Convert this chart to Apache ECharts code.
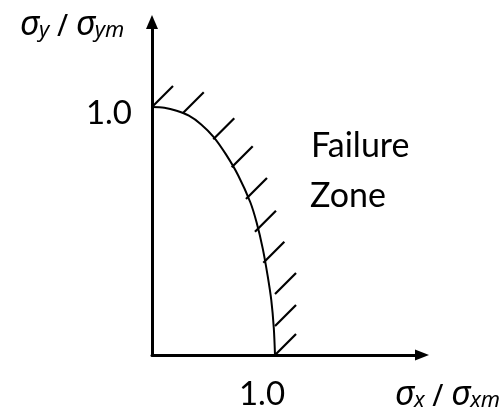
<!DOCTYPE html>
<html>
<head>
<meta charset="utf-8">
<script src="https://cdn.jsdelivr.net/npm/echarts@6/dist/echarts.min.js"></script>
<style>
  html, body { margin: 0; padding: 0; background: #fff; }
  #chart { width: 502px; height: 413px; }
</style>
</head>
<body>
<div id="chart"></div>
<script>
// Normalised failure envelope (σx/σxm, σy/σym)
const curveX = [0, 0.1, 0.2, 0.3, 0.4, 0.5, 0.6, 0.7, 0.8, 0.85, 0.9, 0.94, 0.97, 0.99, 1.0];
const curveY = [1.0, 0.997, 0.985, 0.965, 0.93, 0.88, 0.81, 0.725, 0.615, 0.535, 0.43, 0.32, 0.22, 0.11, 0.0];

// Where the hatch strokes leave the envelope
const hatchX = [0, 0.25, 0.498, 0.648, 0.764, 0.837, 0.905, 1.0, 1.0, 1.0];
const hatchY = [1.0, 0.975, 0.87, 0.757, 0.629, 0.497, 0.372, 0.246, 0.117, 0.0];

// Tick labels shown on each axis
const xTicks = [1];
const yTicks = [1];

const xTitle = { main: 'σ', sub1: 'x', sub2: 'xm' };
const yTitle = { main: 'σ', sub1: 'y', sub2: 'ym' };
const zoneText = ['Failure', 'Zone'];

const FONT = 'Lato';
const HATCH_DX = 21, HATCH_DY = -21;

function titleRich(t) {
  return '{s|' + t.main + '}{b|' + t.sub1 + '}{sl| / }{s|' + t.main + '}{b|' + t.sub2 + '}';
}
const richStyles = {
  s: { fontFamily: 'Noto Sans', fontStyle: 'italic', fontSize: 34, fill: '#000', verticalAlign: 'bottom' },
  b: { fontFamily: 'Noto Sans', fontStyle: 'italic', fontSize: 22, fill: '#000', verticalAlign: 'bottom' },
  sl: { fontFamily: 'Noto Sans', fontSize: 30, fill: '#000', verticalAlign: 'bottom' }
};

const chart = echarts.init(document.getElementById('chart'), null, { renderer: 'canvas' });

const option = {
  backgroundColor: '#fff',
  animation: false,
  grid: { left: 152, right: 80, top: 22, bottom: 58 },
  xAxis: {
    type: 'value', min: 0, max: 2.195, interval: 1,
    axisLine: { lineStyle: { color: '#000', width: 3 }, symbol: ['none', 'triangle'], symbolSize: [11, 14] },
    axisTick: { show: false },
    splitLine: { show: false },
    axisLabel: {
      margin: 23, color: '#000', fontFamily: FONT, fontSize: 33,
      padding: [0, 26, 0, 0],
      formatter: v => xTicks.includes(v) ? v.toFixed(1) : ''
    }
  },
  yAxis: {
    type: 'value', min: 0, max: 1.343, interval: 1,
    axisLine: { lineStyle: { color: '#000', width: 3 }, symbol: ['none', 'triangle'], symbolSize: [12, 14] },
    axisTick: { show: false },
    splitLine: { show: false },
    axisLabel: {
      margin: 20, color: '#000', fontFamily: FONT, fontSize: 33,
      verticalAlign: 'top',
      padding: [-10, 0, 0, 0],
      formatter: v => yTicks.includes(v) ? v.toFixed(1) : ''
    }
  },
  series: [
    {
      type: 'line',
      data: curveX.map((x, i) => [x, curveY[i]]),
      smooth: 0.3,
      symbol: 'none',
      lineStyle: { color: '#000', width: 2 },
      z: 3
    },
    {
      type: 'custom',
      data: hatchX.map((x, i) => [x, hatchY[i]]),
      renderItem: function (params, api) {
        const p = api.coord([api.value(0), api.value(1)]);
        return {
          type: 'line',
          shape: { x1: p[0], y1: p[1], x2: p[0] + HATCH_DX, y2: p[1] + HATCH_DY },
          style: { stroke: '#000', lineWidth: 2.2 }
        };
      },
      z: 3
    }
  ],
  graphic: [
    { type: 'text', left: 311, top: 129, style: { text: zoneText[0], font: '34px ' + FONT, fill: '#000' } },
    { type: 'text', left: 310, top: 179, style: { text: zoneText[1], font: '34px ' + FONT, fill: '#000' } },
    { type: 'text', left: 20, top: 8, style: { text: titleRich(yTitle), rich: richStyles } },
    { type: 'text', left: 395, top: 378, style: { text: titleRich(xTitle), rich: richStyles } }
  ]
};

chart.setOption(option);
</script>
</body>
</html>
